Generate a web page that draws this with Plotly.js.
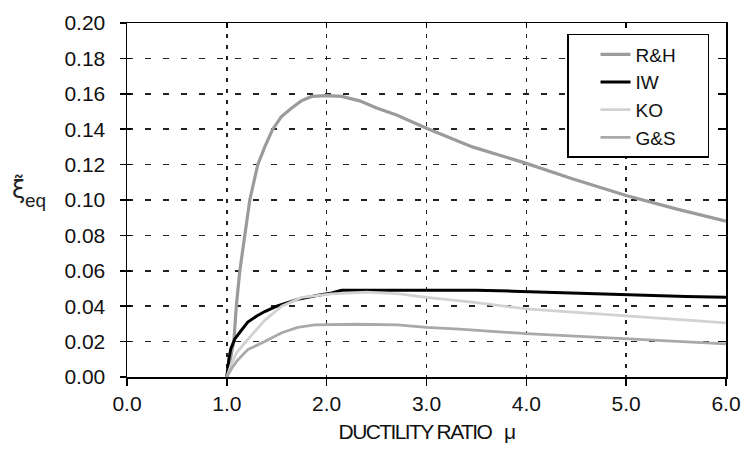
<!DOCTYPE html>
<html>
<head>
<meta charset="utf-8">
<script src="https://cdn.plot.ly/plotly-3.0.1.min.js"></script>
<style>
html,body{margin:0;padding:0;background:#fff;}
#chart{width:743px;height:457px;}
.xtitle{letter-spacing:-1.6px;}
</style>
</head>
<body>
<div id="chart"></div>
<script>
// ---- data ----
const seriesNames = ["R&H", "IW", "KO", "G&S"];

const muRH = [1.0, 1.07, 1.095, 1.13, 1.18, 1.23, 1.31, 1.38, 1.46, 1.545, 1.65, 1.745, 1.85, 2.0, 2.15, 2.33, 2.5, 2.7, 3.0, 3.46, 4.0, 4.46, 5.0, 5.5, 6.0];
const xiRH = [0.0, 0.02, 0.04, 0.06, 0.08, 0.10, 0.12, 0.130, 0.140, 0.147, 0.152, 0.156, 0.1585, 0.159, 0.1585, 0.156, 0.152, 0.148, 0.1405, 0.130, 0.1207, 0.112, 0.1025, 0.095, 0.088];

const muIW = [1.0, 1.02, 1.04, 1.08, 1.14, 1.21, 1.3, 1.38, 1.5, 1.7, 1.9, 2.05, 2.15, 2.5, 3.0, 3.5, 3.87, 4.3, 4.8, 5.2, 5.6, 6.0];
const xiIW = [0.0, 0.010, 0.016, 0.0215, 0.026, 0.031, 0.0345, 0.037, 0.040, 0.0437, 0.046, 0.0475, 0.049, 0.049, 0.049, 0.049, 0.0485, 0.0477, 0.047, 0.0462, 0.0455, 0.045];

const muKO = [1.0, 1.05, 1.1, 1.21, 1.3, 1.38, 1.55, 1.75, 2.05, 2.4, 2.73, 3.0, 3.5, 4.0, 4.5, 5.0, 5.5, 6.0];
const xiKO = [0.0, 0.008, 0.014, 0.0215, 0.027, 0.032, 0.040, 0.045, 0.047, 0.048, 0.047, 0.045, 0.042, 0.0385, 0.0365, 0.0346, 0.0326, 0.0306];

const muGS = [1.0, 1.05, 1.1, 1.21, 1.38, 1.55, 1.71, 1.88, 2.3, 2.71, 3.0, 3.33, 4.0, 4.5, 5.0, 5.5, 6.0];
const xiGS = [0.0, 0.005, 0.009, 0.0155, 0.020, 0.025, 0.028, 0.0295, 0.0298, 0.0295, 0.028, 0.027, 0.0245, 0.023, 0.0215, 0.020, 0.0187];

const xTickVals = [0, 1, 2, 3, 4, 5, 6];
const xTickText = ["0.0", "1.0", "2.0", "3.0", "4.0", "5.0", "6.0"];
const yTickVals = [0, 0.02, 0.04, 0.06, 0.08, 0.10, 0.12, 0.14, 0.16, 0.18, 0.20];
const yTickText = ["0.00", "0.02", "0.04", "0.06", "0.08", "0.10", "0.12", "0.14", "0.16", "0.18", "0.20"];

const xTitle = "DUCTILITY RATIO\u00a0\u00a0\u00a0\u03bc";
const yLabelSymbol = "\u03be\u0303";
const yLabelSub = "eq";

// ---- chart ----
const FONT = "Liberation Sans, Arial, sans-serif";
const pad = "\u00a0\u00a0\u00a0\u00a0\u00a0";

const traces = [
  {x: muRH, y: xiRH, name: seriesNames[0] + pad, mode: "lines", line: {color: "#9b9b9b", width: 3.2}},
  {x: muIW, y: xiIW, name: seriesNames[1] + pad, mode: "lines", line: {color: "#000000", width: 3}},
  {x: muKO, y: xiKO, name: seriesNames[2] + pad, mode: "lines", line: {color: "#d2d2d2", width: 2.8}},
  {x: muGS, y: xiGS, name: seriesNames[3] + pad, mode: "lines", line: {color: "#a9a9a9", width: 2.8}},
  {x: [], y: [], xaxis: "x2", yaxis: "y2", showlegend: false, hoverinfo: "skip"},
  {x: [], y: [], xaxis: "x", yaxis: "y3", showlegend: false, hoverinfo: "skip"}
];

const layout = {
  width: 743, height: 457,
  margin: {l: 127, r: 17, t: 23, b: 80},
  paper_bgcolor: "#ffffff", plot_bgcolor: "#ffffff",
  font: {family: FONT, size: 21, color: "#111"},
  showlegend: true,
  legend: {
    x: 0.7346, y: 0.969, xanchor: "left", yanchor: "top",
    bgcolor: "#ffffff", bordercolor: "#000", borderwidth: 1.5,
    font: {family: FONT, size: 19, color: "#111"},
    indentation: 27, tracegroupgap: 0
  },
  xaxis: {
    range: [0, 6], tickvals: xTickVals, ticktext: xTickText,
    ticks: "outside", ticklen: 7, tickwidth: 1.5, tickcolor: "#000",
    showline: true, linecolor: "#000", linewidth: 1.5, mirror: true,
    showgrid: true, gridcolor: "#222", gridwidth: 1.5, griddash: "4px,7px",
    zeroline: false, tickfont: {size: 21, family: FONT, color: "#111"},
    title: {text: xTitle, font: {size: 21, family: FONT, color: "#111"}, standoff: 10}
  },
  xaxis2: {
    overlaying: "x", side: "top", range: [0, 6], tickvals: xTickVals,
    ticks: "inside", ticklen: 5, tickwidth: 1.5, tickcolor: "#000",
    showticklabels: false, showgrid: false, zeroline: false, showline: false
  },
  yaxis: {
    range: [0, 0.2], tickvals: yTickVals, ticktext: yTickText,
    ticks: "outside", ticklen: 6, tickwidth: 1.5, tickcolor: "#000",
    showline: true, linecolor: "#000", linewidth: 1.5, mirror: true,
    showgrid: true, gridcolor: "#222", gridwidth: 1.5, griddash: "6px,12px",
    zeroline: false, tickfont: {size: 21, family: FONT, color: "#111"},
    ticklabelstandoff: 10
  },
  yaxis2: {
    overlaying: "y", side: "left", range: [0, 0.2], tickvals: yTickVals,
    ticks: "inside", ticklen: 4, tickwidth: 1.5, tickcolor: "#000",
    showticklabels: false, showgrid: false, zeroline: false, showline: false
  },
  yaxis3: {
    overlaying: "y", side: "right", range: [0, 0.2], tickvals: yTickVals,
    ticks: "inside", ticklen: 8, tickwidth: 1.5, tickcolor: "#000",
    showticklabels: false, showgrid: false, zeroline: false, showline: false
  },
  annotations: [
    {text: yLabelSymbol, xref: "paper", yref: "paper", x: -0.196, y: 0.53,
     xanchor: "left", yanchor: "middle", showarrow: false,
     font: {family: "DejaVu Sans", size: 24, color: "#222"}},
    {text: yLabelSub, xref: "paper", yref: "paper", x: -0.173, y: 0.498,
     xanchor: "left", yanchor: "middle", showarrow: false,
     font: {family: FONT, size: 19, color: "#222"}}
  ]
};

Plotly.newPlot("chart", traces, layout, {staticPlot: true, displayModeBar: false});
</script>
</body>
</html>
